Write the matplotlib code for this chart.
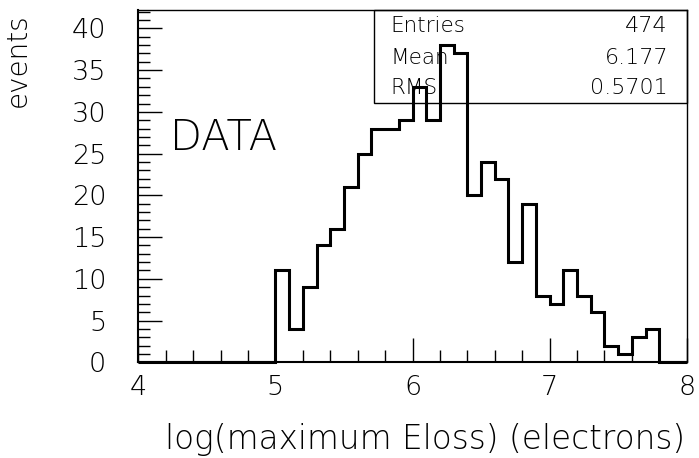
import numpy as np
import matplotlib
matplotlib.use("Agg")
import matplotlib.pyplot as plt
from matplotlib.patches import Rectangle
from matplotlib.ticker import MultipleLocator

# log10 of the maximum energy loss per event, 0.1-wide bins from 4 to 8
bin_low = 4.0
bin_high = 8.0
counts = [0, 0, 0, 0, 0, 0, 0, 0, 0, 0,
          11, 4, 9, 14, 16, 21, 25, 28, 28, 29,
          33, 29, 38, 37, 20, 24, 22, 12, 19, 8,
          7, 11, 8, 6, 2, 1, 3, 4, 0, 0]

stat_names = ["Entries", "Mean", "RMS"]
stat_values = ["474", "6.177", "0.5701"]

x_ticks = [4, 5, 6, 7, 8]
y_ticks = [0, 5, 10, 15, 20, 25, 30, 35, 40]

plt.rcParams['font.family'] = ['DejaVu Sans']
plt.rcParams['font.weight'] = 200
plt.rcParams['axes.labelweight'] = 200

fig = plt.figure(figsize=(6.99, 4.58), dpi=100)
L, R, B, T = 138.3, 686.7, 362.3, 10.0
W, H = 699.0, 458.0
ax = fig.add_axes([L / W, 1 - B / H, (R - L) / W, (B - T) / H])

edges = np.linspace(bin_low, bin_high, len(counts) + 1)
ax.stairs(counts, edges, color="black", linewidth=2.2, baseline=0,
          clip_on=False, zorder=3)

ax.set_xlim(bin_low, bin_high)
ax.set_ylim(0, 42.2)

ax.set_xticks(x_ticks)
ax.set_xticklabels([str(v) for v in x_ticks])
ax.set_yticks(y_ticks)
ax.set_yticklabels([str(v) for v in y_ticks])
ax.xaxis.set_minor_locator(MultipleLocator(0.2))
ax.yaxis.set_minor_locator(MultipleLocator(1))

ax.tick_params(axis="both", which="both", direction="in", color="black",
               width=1.0, top=False, right=False)
ax.tick_params(axis="both", which="major", length=17, labelsize=19.5)
ax.tick_params(axis="both", which="minor", length=8.6)
ax.tick_params(axis="x", which="major", pad=9)
ax.tick_params(axis="y", which="major", pad=23)

for side in ("left", "bottom"):
    ax.spines[side].set_linewidth(1.5)
for side in ("top", "right"):
    ax.spines[side].set_linewidth(1.0)

ax.set_xlabel("log(maximum Eloss) (electrons)", fontsize=23.5,
              ha="right", va="center")
ax.xaxis.set_label_coords((685 - L) / (R - L), (B - 440) / (B - T))
ax.set_ylabel("events", fontsize=20, ha="right", va="center",
              rotation=90, rotation_mode="anchor")
ax.yaxis.set_label_coords((18 - L) / (R - L), (B - 13) / (B - T))

ax.text((170 - L) / (R - L), (B - 137) / (B - T), "DATA", fontsize=30,
        ha="left", va="center", transform=ax.transAxes)

# statistics box in the upper right corner
bx0 = (374 - L) / (R - L)
by0 = (B - 103.3) / (B - T)
ax.add_patch(Rectangle((bx0, by0), 1 - bx0, 1 - by0, transform=ax.transAxes,
                       fill=False, edgecolor="black", linewidth=1.0,
                       clip_on=False, zorder=2))
row_y = [25.8, 57.5, 88.0]
for name, val, yy in zip(stat_names, stat_values, row_y):
    ya = (B - yy) / (B - T)
    ax.text((390.5 - L) / (R - L), ya, name, fontsize=15.5, ha="left",
            va="center", transform=ax.transAxes)
    ax.text((668 - L) / (R - L), ya, val, fontsize=16, ha="right",
            va="center", transform=ax.transAxes)

fig.savefig("out.png", dpi=100)
